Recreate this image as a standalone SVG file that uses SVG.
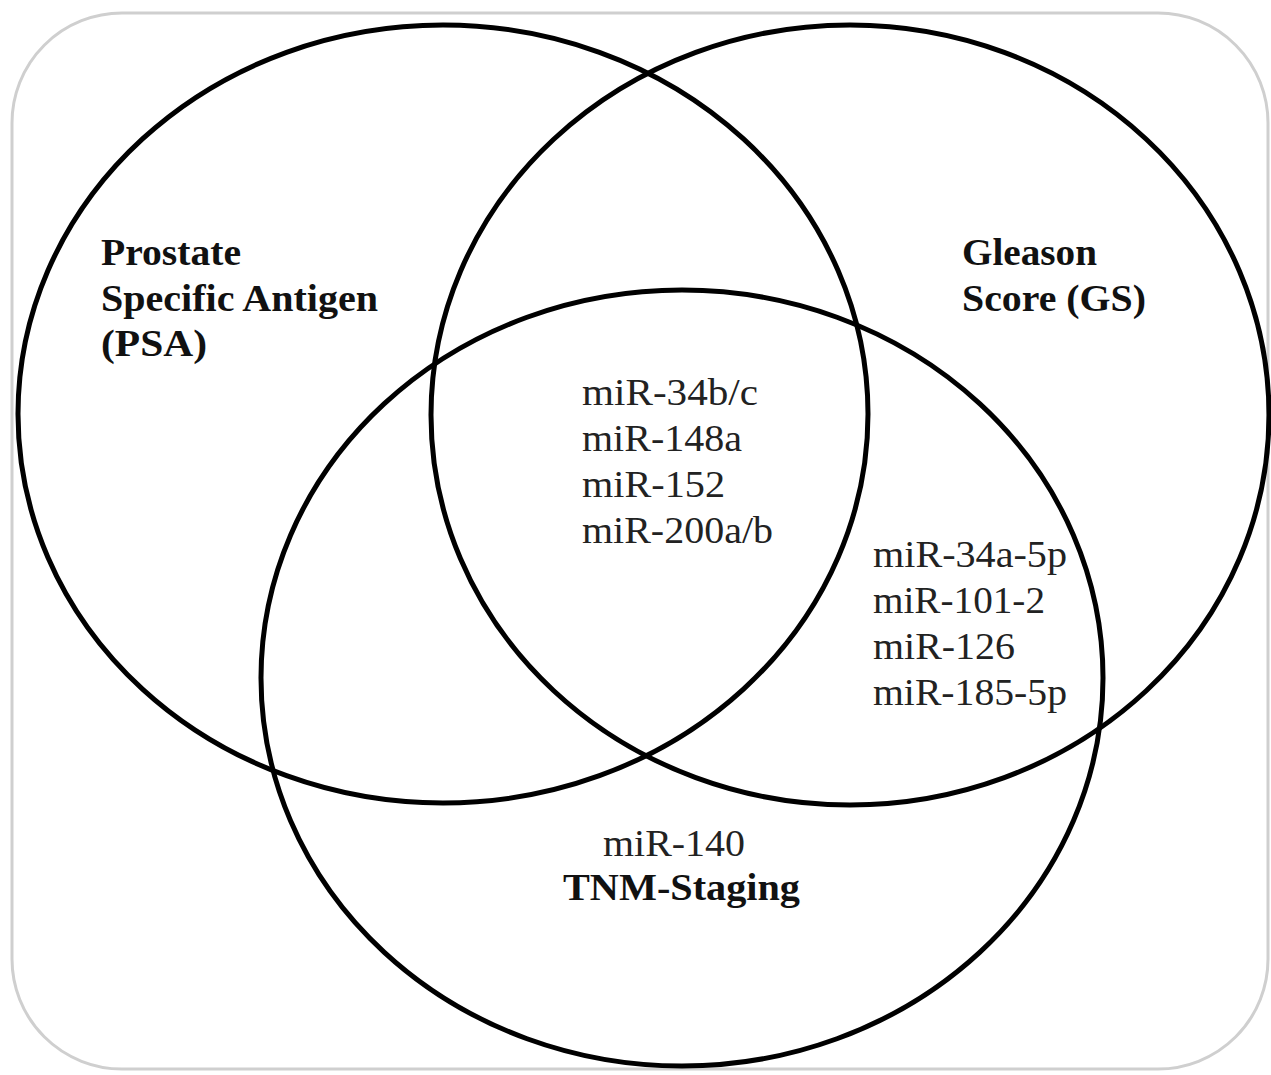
<svg xmlns="http://www.w3.org/2000/svg" width="1271" height="1075" viewBox="0 0 1271 1075">
<style>
.set{fill:none;stroke:#000;stroke-width:5}
.lbl{font-family:"Liberation Serif","Times New Roman",serif;font-weight:bold;font-size:38px;fill:#111}
.mir{font-family:"Liberation Serif","Times New Roman",serif;font-size:38px;fill:#222}
</style>
<rect x="0" y="0" width="1271" height="1075" fill="#fff"/>
<rect id="frame" x="12" y="13" width="1256" height="1056" rx="110" ry="110" fill="#fff" stroke="#cfcfcf" stroke-width="3"/>
<g id="psa">
<ellipse class="set" cx="443" cy="414" rx="425" ry="389"/>
<text class="lbl" x="101" y="265" textLength="140" lengthAdjust="spacingAndGlyphs">Prostate</text>
<text class="lbl" x="101" y="311" textLength="277" lengthAdjust="spacingAndGlyphs">Specific Antigen</text>
<text class="lbl" x="101" y="356" textLength="106" lengthAdjust="spacingAndGlyphs">(PSA)</text>
</g>
<g id="gs">
<ellipse class="set" cx="850" cy="415" rx="419" ry="390"/>
<text class="lbl" x="962" y="265" textLength="135" lengthAdjust="spacingAndGlyphs">Gleason</text>
<text class="lbl" x="962" y="311" textLength="184" lengthAdjust="spacingAndGlyphs">Score (GS)</text>
</g>
<g id="tnm">
<ellipse class="set" cx="682" cy="678" rx="421" ry="388"/>
<text class="mir" x="603" y="856" textLength="142" lengthAdjust="spacingAndGlyphs">miR-140</text>
<text class="lbl" x="563" y="900" textLength="237" lengthAdjust="spacingAndGlyphs">TNM-Staging</text>
</g>
<g id="all-three">
<text class="mir" x="582" y="405" textLength="176" lengthAdjust="spacingAndGlyphs">miR-34b/c</text>
<text class="mir" x="582" y="451" textLength="160" lengthAdjust="spacingAndGlyphs">miR-148a</text>
<text class="mir" x="582" y="497" textLength="143" lengthAdjust="spacingAndGlyphs">miR-152</text>
<text class="mir" x="582" y="543" textLength="191" lengthAdjust="spacingAndGlyphs">miR-200a/b</text>
</g>
<g id="gs-tnm">
<text class="mir" x="873" y="567" textLength="194" lengthAdjust="spacingAndGlyphs">miR-34a-5p</text>
<text class="mir" x="873" y="613" textLength="172" lengthAdjust="spacingAndGlyphs">miR-101-2</text>
<text class="mir" x="873" y="659" textLength="142" lengthAdjust="spacingAndGlyphs">miR-126</text>
<text class="mir" x="873" y="705" textLength="194" lengthAdjust="spacingAndGlyphs">miR-185-5p</text>
</g>
</svg>
